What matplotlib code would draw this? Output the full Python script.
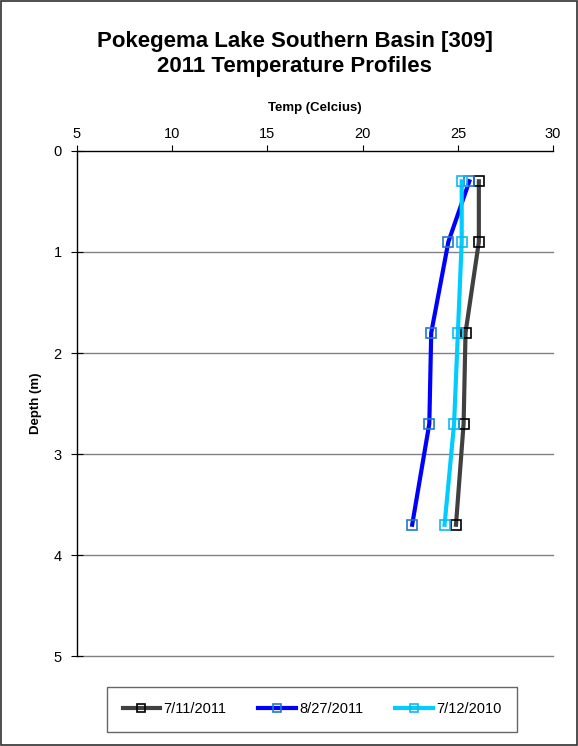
import matplotlib
matplotlib.use("Agg")
import matplotlib.pyplot as plt
from matplotlib.patches import Rectangle

plt.rcParams["font.family"] = ["Liberation Sans", "DejaVu Sans"]

# depth of each reading (m) and temperature profiles (deg C)
depth = [0.3, 0.9, 1.8, 2.7, 3.7]
temp_0711_2011 = [26.1, 26.1, 25.4, 25.3, 24.9]
temp_0827_2011 = [25.6, 24.5, 23.6, 23.5, 22.6]
temp_0712_2010 = [25.2, 25.2, 25.0, 24.8, 24.3]

series = [
    ("7/11/2011", temp_0711_2011, "#404040", "black"),
    ("8/27/2011", temp_0827_2011, "#0000ff", "#1f78c8"),
    ("7/12/2010", temp_0712_2010, "#00ccff", "#10b8f0"),
]

fig = plt.figure(figsize=(5.78, 7.46), dpi=100)
ax = fig.add_axes([0.133, 0.1206, 0.824, 0.677])

for label, temps, lc, mc in series:
    ax.plot(temps, depth, color=lc, lw=3, marker="s", ms=6.5,
            mfc="none", mec=mc, mew=1.2, label=label)

ax.set_xlim(5, 30)
ax.set_ylim(5, 0)
ax.set_xticks([5, 10, 15, 20, 25, 30])
ax.set_yticks([0, 1, 2, 3, 4, 5])
ax.xaxis.tick_top()
ax.xaxis.set_label_position("top")
ax.tick_params(axis="x", direction="out", length=4, labelsize=10.5, pad=3)
ax.tick_params(axis="y", direction="inout", length=8, labelsize=10.5, pad=7)
for d in [1, 2, 3, 4, 5]:
    ax.axhline(d, color="#808080", lw=1, zorder=0, clip_on=False)
for side in ("right", "bottom"):
    ax.spines[side].set_visible(False)
for side in ("top", "left"):
    ax.spines[side].set_color("black")
    ax.spines[side].set_linewidth(1)

ax.set_xlabel("Temp (Celcius)", fontsize=9.5, fontweight="bold", labelpad=12)
ax.set_ylabel("Depth (m)", fontsize=9.5, fontweight="bold", labelpad=8)

fig.suptitle("Pokegema Lake Southern Basin [309]\n2011 Temperature Profiles",
             x=0.51, y=0.958, fontsize=16, fontweight="bold", linespacing=1.2)

leg = fig.legend(loc="center", bbox_to_anchor=(0.54, 0.049), ncol=3,
                 fontsize=10.5, frameon=True, fancybox=False, handlelength=2.6,
                 handletextpad=0.2, columnspacing=2.2, borderpad=1.05, markerscale=0.8)
leg.get_frame().set_edgecolor("#404040")
leg.get_frame().set_linewidth(1)

fig.patches.append(Rectangle((0.002, 0.002), 0.996, 0.996, transform=fig.transFigure,
                             fill=False, edgecolor="#303030", lw=1.2))

fig.savefig("out.png", dpi=100)
